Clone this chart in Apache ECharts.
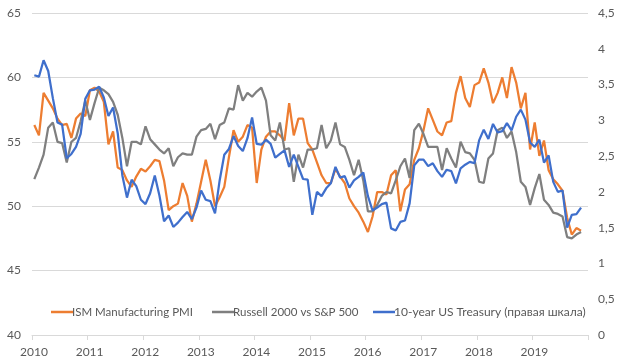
<!DOCTYPE html>
<html>
<head>
<meta charset="utf-8">
<script src="https://cdn.jsdelivr.net/npm/echarts@6/dist/echarts.min.js"></script>
<style>
html,body{margin:0;padding:0;background:#fff;}
#chart{width:624px;height:364px;}
</style>
</head>
<body>
<div id="chart"></div>
<script>
// Monthly data, Jan 2010 .. Nov 2019
var yearLabels = ['2010','2011','2012','2013','2014','2015','2016','2017','2018','2019'];
var leftTicks = [40, 45, 50, 55, 60, 65];
var rightTicks = ['0','0,5','1','1,5','2','2,5','3','3,5','4','4,5'];

var seriesNames = ['ISM Manufacturing PMI', 'Russell 2000 vs S&P 500', '10-year US Treasury (правая шкала)'];

var ism = [
  56.3, 55.5, 58.8, 58.2, 57.6, 56.8, 56.3, 56.4, 55.3, 56.8, 57.2, 57.0,
  59.0, 59.2, 58.9, 58.1, 54.8, 55.8, 53.0, 52.8, 52.0, 51.5, 52.3, 52.9,
  52.7, 53.1, 53.6, 53.5, 52.0, 49.7, 50.0, 50.2, 51.8, 50.8, 48.8, 50.2,
  51.9, 53.6, 52.0, 50.0, 50.7, 51.5, 53.8, 55.9, 55.0, 55.4, 56.3, 56.1,
  51.8, 54.4, 55.4, 55.8, 55.8, 55.5, 55.1, 58.0, 55.5, 56.8, 56.8, 54.9,
  54.4, 53.4, 52.4, 51.8, 51.8, 52.9, 52.3, 51.8, 50.6, 50.0, 49.5, 48.8,
  48.0, 49.2, 51.1, 51.1, 50.9, 52.4, 52.8, 49.6, 51.3, 51.7, 53.6, 54.5,
  55.9, 57.6, 56.7, 55.8, 55.5, 56.5, 56.6, 58.8, 60.1, 58.4, 57.7, 59.4,
  59.6, 60.7, 59.6, 58.0, 58.8, 60.0, 58.4, 60.8, 59.6, 57.6, 58.8, 54.4,
  56.5, 53.9, 55.1, 52.8, 52.1, 51.7, 51.2, 49.1, 47.8, 48.3, 48.1
];

var russell = [
  52.1, 53.0, 54.0, 56.1, 56.5, 55.0, 54.9, 53.4, 55.0, 55.3, 56.6, 58.2,
  56.7, 58.0, 59.2, 59.0, 58.7, 58.1, 57.1, 55.3, 53.1, 55.0, 55.0, 54.8,
  56.2, 55.2, 54.8, 54.4, 54.1, 54.5, 53.1, 53.8, 54.1, 54.0, 54.0, 55.4,
  55.9, 56.0, 56.4, 55.2, 56.3, 56.5, 57.6, 57.5, 59.4, 58.2, 58.8, 58.5,
  58.9, 59.2, 58.2, 55.5, 55.1, 56.5, 54.4, 54.5, 51.9, 54.0, 53.0, 54.4,
  54.4, 54.5, 56.3, 54.5, 55.1, 56.5, 54.8, 54.6, 53.6, 52.4, 53.6, 52.0,
  49.6, 49.6, 50.1, 50.8, 51.1, 51.0, 52.0, 53.1, 53.7, 52.2, 55.9, 56.4,
  55.6, 54.6, 54.6, 54.6, 52.8, 54.5, 53.7, 53.0, 55.0, 54.2, 54.1, 53.6,
  51.9, 51.8, 53.7, 54.1, 55.9, 56.1, 55.3, 55.8, 54.2, 51.9, 51.5, 50.1,
  51.4, 52.5, 50.5, 50.1, 49.5, 49.4, 49.2, 47.6, 47.5, 47.8, 48.0
];

var treasury = [
  3.63, 3.61, 3.84, 3.69, 3.31, 2.97, 2.94, 2.47, 2.53, 2.63, 2.81, 3.30,
  3.42, 3.43, 3.47, 3.32, 3.06, 3.18, 2.82, 2.23, 1.92, 2.17, 2.08, 1.89,
  1.83, 1.98, 2.23, 1.95, 1.59, 1.67, 1.51, 1.57, 1.65, 1.72, 1.62, 1.78,
  2.02, 1.89, 1.87, 1.70, 2.16, 2.52, 2.60, 2.78, 2.64, 2.57, 2.75, 3.04,
  2.67, 2.66, 2.73, 2.67, 2.48, 2.53, 2.58, 2.35, 2.52, 2.35, 2.18, 2.17,
  1.68, 2.00, 1.94, 2.05, 2.12, 2.35, 2.20, 2.22, 2.06, 2.16, 2.21, 2.27,
  1.94, 1.74, 1.78, 1.83, 1.85, 1.49, 1.46, 1.58, 1.60, 1.84, 2.37, 2.45,
  2.45, 2.36, 2.40, 2.29, 2.21, 2.31, 2.29, 2.12, 2.33, 2.38, 2.42, 2.40,
  2.72, 2.87, 2.74, 2.95, 2.83, 2.85, 2.96, 2.86, 3.05, 3.15, 3.01, 2.69,
  2.63, 2.73, 2.41, 2.51, 2.14, 2.00, 2.02, 1.50, 1.68, 1.69, 1.78
];

var colors = ['#ED7D31', '#7F7F7F', '#3F6FCC'];

function toPoints(arr) {
  return arr.map(function (v, i) { return [i + 0.5, v]; });
}

var FONT = 'Lato, "Open Sans", sans-serif';
var TXT = '#595959';
var GRID = '#D9D9D9';

var legendLefts = [46, 207, 368];
var legendFontSizes = [11.5, 11.5, 12];
function makeLegend(k) {
  return {
    data: [seriesNames[k]],
    top: 301,
    left: legendLefts[k],
    icon: 'rect',
    itemWidth: 22,
    itemHeight: 2.5,
    textStyle: {color: TXT, fontSize: legendFontSizes[k], fontFamily: FONT, padding: [0, 0, 0, -6]}
  };
}

var chart = echarts.init(document.getElementById('chart'), null, {renderer: 'canvas'});
chart.setOption({
  animation: false,
  backgroundColor: '#ffffff',
  color: colors,
  grid: {left: 32, right: 36, top: 13, bottom: 29, containLabel: false},
  legend: [makeLegend(0), makeLegend(1), makeLegend(2)],
  xAxis: {
    type: 'value',
    min: 0,
    max: yearLabels.length * 12,
    interval: 12,
    axisLine: {show: true, lineStyle: {color: GRID, width: 1}},
    axisTick: {show: true, length: 5, lineStyle: {color: GRID}},
    splitLine: {show: false},
    axisLabel: {
      color: TXT, fontSize: 12, fontFamily: FONT, margin: 11, padding: [0, 0, 0, 4],
      formatter: function (v) { var k = Math.round(v / 12); return yearLabels[k] || ''; }
    }
  },
  yAxis: [
    {
      type: 'value',
      min: leftTicks[0],
      max: leftTicks[leftTicks.length - 1],
      interval: 5,
      axisLine: {show: false},
      axisTick: {show: false},
      splitLine: {show: true, lineStyle: {color: GRID, width: 1}},
      axisLabel: {color: TXT, fontSize: 12, fontFamily: FONT, margin: 11}
    },
    {
      type: 'value',
      position: 'right',
      min: 0,
      max: 4.5,
      interval: 0.5,
      axisLine: {show: false},
      axisTick: {show: false},
      splitLine: {show: false},
      axisLabel: {
        color: TXT, fontSize: 12, fontFamily: FONT, margin: 10,
        formatter: function (v) { return rightTicks[Math.round(v * 2)]; }
      }
    }
  ],
  series: [
    {
      name: seriesNames[0], type: 'line', yAxisIndex: 0, data: toPoints(ism),
      symbol: 'none', lineStyle: {width: 2.25, color: colors[0]}, itemStyle: {color: colors[0]}
    },
    {
      name: seriesNames[1], type: 'line', yAxisIndex: 0, data: toPoints(russell),
      symbol: 'none', lineStyle: {width: 2.25, color: colors[1]}, itemStyle: {color: colors[1]}
    },
    {
      name: seriesNames[2], type: 'line', yAxisIndex: 1, data: toPoints(treasury),
      symbol: 'none', lineStyle: {width: 2.25, color: colors[2]}, itemStyle: {color: colors[2]}
    }
  ]
});
</script>
</body>
</html>
